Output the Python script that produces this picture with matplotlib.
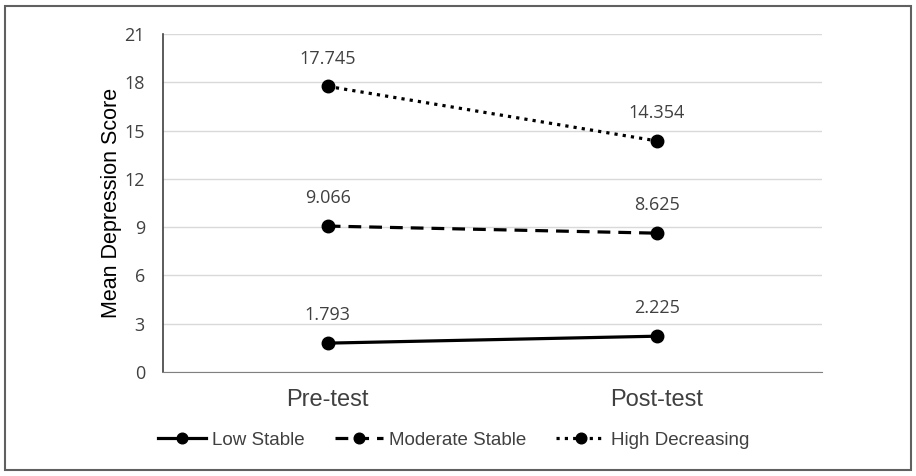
import matplotlib.pyplot as plt
from matplotlib.patches import Rectangle

# data
phases = ["Pre-test", "Post-test"]
low_stable = [1.793, 2.225]
moderate_stable = [9.066, 8.625]
high_decreasing = [17.745, 14.354]
y_ticks = [0, 3, 6, 9, 12, 15, 18, 21]

series = [
    ("Low Stable", low_stable, "-"),
    ("Moderate Stable", moderate_stable, (0, (4, 2.5))),
    ("High Decreasing", high_decreasing, (0, (1, 1.6))),
]

fig = plt.figure(figsize=(9.16, 4.76), dpi=100)
ax = fig.add_axes([0.178, 0.2185, 0.719, 0.7101])

x = list(range(len(phases)))
for name, values, style in series:
    ax.plot(x, values, color="black", linestyle=style, linewidth=2.3,
            marker="o", markersize=9, label=name)
    for xi, v in zip(x, values):
        ax.annotate("%.3f" % v, (xi, v), xytext=(0, 20), textcoords="offset points",
                    ha="center", va="center", fontsize=13, color="#404040",
                    family="Open Sans")

ax.set_xlim(-0.5, 1.5)
ax.set_ylim(0, 21)
ax.set_yticks(y_ticks)
ax.set_xticks(x)
ax.set_xticklabels(phases, fontsize=17, color="#404040", family="Liberation Sans")
ax.tick_params(axis="y", labelsize=13, labelcolor="#404040", length=0, pad=13)
ax.tick_params(axis="x", length=0, pad=12)
for lbl in ax.get_yticklabels():
    lbl.set_family("Open Sans")
ax.set_ylabel("Mean Depression Score", fontsize=15.5, family="Liberation Sans", labelpad=2)

ax.grid(axis="y", color="#d9d9d9", linewidth=1)
ax.set_axisbelow(True)
for side in ["top", "right"]:
    ax.spines[side].set_visible(False)
ax.spines["left"].set_color("#404040")
ax.spines["left"].set_linewidth(1.2)
ax.spines["bottom"].set_color("#808080")

leg = fig.legend(loc="center", bbox_to_anchor=(0.495, 0.075), ncol=3, frameon=False,
                 prop={"family": "Liberation Sans", "size": 13.5}, handlelength=2.6,
                 handletextpad=0.3, columnspacing=1.6, labelcolor="#404040",
                 markerscale=0.85)

fig.patches.append(Rectangle((5 / 916, 6 / 476), 906 / 916, 464 / 476,
                             transform=fig.transFigure, fill=False,
                             edgecolor="#606060", linewidth=1.5))

fig.savefig("out.png", dpi=100)
